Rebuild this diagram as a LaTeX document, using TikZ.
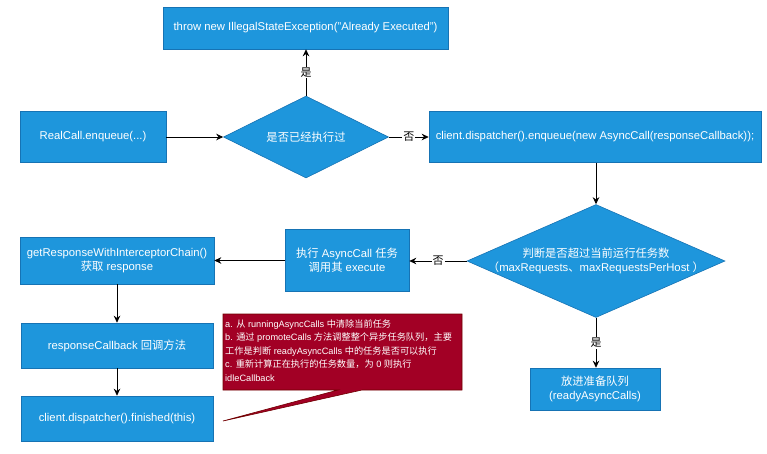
\documentclass[tikz,border=0pt]{standalone}
\usepackage{fontspec}
\setmainfont{Liberation Sans}
\newfontfamily\cjk{Noto Sans CJK SC}
\newcommand{\zh}[1]{{\cjk #1}}
\usetikzlibrary{shapes.geometric,arrows.meta}
\definecolor{boxblue}{RGB}{30,150,220}
\definecolor{boxedge}{RGB}{22,115,180}
\definecolor{noteRed}{RGB}{162,0,37}
\definecolor{noteEdge}{RGB}{111,0,0}
\tikzset{
  flowbox/.style={draw=boxedge, fill=boxblue, line width=0.6pt, inner sep=0pt},
  dia/.style={diamond, draw=boxedge, fill=boxblue, line width=0.6pt, inner sep=0pt},
  wtxt/.style={text=white, align=center, font=\fontsize{11.3}{14}\selectfont, inner sep=0pt},
  conn/.style={draw=black, line width=0.8pt, -{Stealth[length=7pt,width=6.5pt]}},
  elab/.style={fill=white, text=black, inner sep=1pt, font=\fontsize{11}{13}\selectfont},
}
\begin{document}
\begin{tikzpicture}[x=1pt,y=-1pt]
\useasboundingbox (0,0) rectangle (767,453);
% boxes
\node[flowbox, minimum width=285pt, minimum height=42pt] (throw) at (305.5,28) {};
\node[wtxt] at (throw) {throw new IllegalStateException("Already Executed")};
\node[flowbox, minimum width=146pt, minimum height=51pt] (real) at (93,137) {};
\node[wtxt] at (real) {RealCall.enqueue(...)};
\node[dia, minimum width=165pt, minimum height=82pt] (d1) at (306,137) {};
\node[wtxt] at (d1) {\zh{是否已经执行过}};
\node[flowbox, minimum width=332pt, minimum height=51pt] (enq) at (595,137) {};
\node[wtxt] at (enq) {client.dispatcher().enqueue(new AsyncCall(responseCallback));};
\node[dia, minimum width=258pt, minimum height=113pt] (d2) at (596,261) {};
\node[wtxt] at (d2) {\zh{判断是否超过当前运行任务数}\\\zh{（}maxRequests\zh{、}maxRequestsPerHost \zh{）}};
\node[flowbox, minimum width=124pt, minimum height=62pt] (exec) at (347,260) {};
\node[wtxt] at (exec) {\zh{执行} AsyncCall \zh{任务}\\\zh{调用其} execute};
\node[flowbox, minimum width=194pt, minimum height=47pt] (getr) at (117,260.5) {};
\node[wtxt] at (getr) {getResponseWithInterceptorChain()\\\zh{获取} response};
\node[flowbox, minimum width=192pt, minimum height=45pt] (cb) at (117,345.5) {};
\node[wtxt] at (cb) {responseCallback \zh{回调方法}};
\node[flowbox, minimum width=192pt, minimum height=45pt] (fin) at (117,418.5) {};
\node[wtxt] at (fin) {client.dispatcher().finished(this)};
\node[flowbox, minimum width=130pt, minimum height=42pt] (ready) at (595,389) {};
\node[wtxt] at (ready) {\zh{放进准备队列}\\(readyAsyncCalls)};
% callout
\coordinate (tip) at (223,421);
\filldraw[fill=noteRed, draw=noteEdge, line width=0.6pt]
  (223,314) -- (462,314) -- (462,390) -- (362,390) -- (tip) -- (338,390) -- (223,390) -- cycle;
\node[anchor=north west, text=white, align=left, inner sep=0pt, font=\fontsize{9.2}{13.5}\selectfont] (note) at (225,319)
  {a. \zh{从} runningAsyncCalls \zh{中清除当前任务}\\
   b. \zh{通过} promoteCalls \zh{方法调整整个异步任务队列，主要}\\
   \zh{工作是判断} readyAsyncCalls \zh{中的任务是否可以执行}\\
   c. \zh{重新计算正在执行的任务数量，为} 0 \zh{则执行}\\
   idleCallback};
% connectors
\draw[conn] (real.east) -- (d1.west);
\draw[conn] (d1.east) -- node[elab] {\zh{否}} (enq.west |- d1.east);
\draw[conn] (d1.north) -- node[elab] {\zh{是}} (throw.south -| d1.north);
\draw[conn] (enq.south -| d2.north) -- (d2.north);
\draw[conn] (d2.west) -- node[elab] {\zh{否}} (exec.east |- d2.west);
\draw[conn] (exec.west |- getr.east) -- (getr.east);
\draw[conn] (getr.south) -- (cb.north);
\draw[conn] (cb.south) -- (fin.north);
\draw[conn] (d2.south) -- node[elab] {\zh{是}} (ready.north -| d2.south);
\end{tikzpicture}
\end{document}
